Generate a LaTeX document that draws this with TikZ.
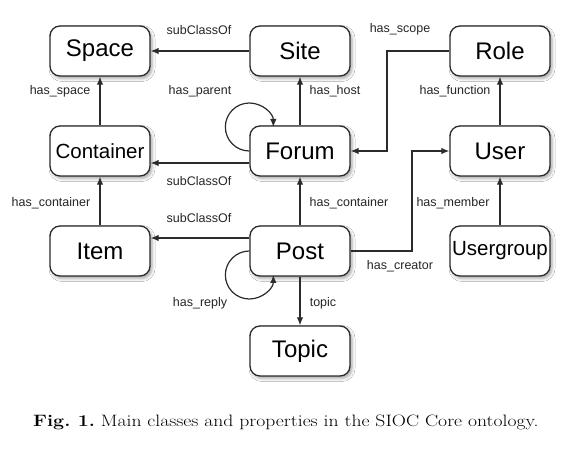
\documentclass[tikz,border=0pt]{standalone}
\usepackage{fontspec}
\newfontfamily\arialfont{Liberation Sans}
\usetikzlibrary{arrows.meta,shadows.blur}
\definecolor{linec}{HTML}{2B2B2B}
\begin{document}
\begin{tikzpicture}[x=1pt,y=1pt,
  cls/.style={draw=linec, line width=1.3pt, rounded corners=10pt, fill=white,
    minimum width=100pt, minimum height=50pt, inner sep=0pt,
    font=\arialfont\fontsize{24}{28}\selectfont,
    blur shadow={shadow xshift=2pt, shadow yshift=-2.5pt, shadow blur radius=3pt, shadow opacity=35}},
  smallcls/.style={cls, font=\arialfont\fontsize{20.5}{24}\selectfont},
  rel/.style={draw=linec, line width=1.2pt, -{Latex[length=8pt,width=6.5pt]}},
  lbl/.style={font=\arialfont\fontsize{12.5}{14}\selectfont, inner sep=0pt, text=black!85}
]
\useasboundingbox (0,0) rectangle (574,448);
\fill[white] (0,0) rectangle (574,448);

\node[cls] (space) at (100,397) {Space};
\node[cls] (site) at (300,397) {Site};
\node[cls] (role) at (500,397) {Role};
\node[smallcls] (container) at (100,297) {Container};
\node[cls] (forum) at (300,297) {Forum};
\node[cls] (user) at (500,297) {User};
\node[cls] (item) at (100,197) {Item};
\node[cls] (post) at (300,197) {Post};
\node[smallcls] (usergroup) at (500,197) {Usergroup};
\node[cls] (topic) at (300,97) {Topic};

\coordinate (scopeA) at (387,397);
\coordinate (scopeB) at (387,297);
\coordinate (creatA) at (412,197);
\coordinate (creatB) at (412,297);

\draw[rel] (site.west) -- (space.east);
\draw[rel] (container.north) -- (space.south);
\draw[rel] (forum.north) -- (site.south);
\draw[rel] (user.north) -- (role.south);
\draw[rel] (role.west) -- (scopeA) -- (scopeB) -- (forum.east);
\draw[rel] ([yshift=-12pt]forum.west) -- ([yshift=-12pt]container.east);
\draw[rel] (item.north) -- (container.south);
\draw[rel] (post.north) -- (forum.south);
\draw[rel] ([yshift=13pt]post.west) -- ([yshift=13pt]item.east);
\draw[rel] (post.east) -- (creatA) -- (creatB) -- (user.west);
\draw[rel] (usergroup.north) -- (user.south);
\draw[rel] (post.south) -- (topic.north);
\draw[rel] (forum.west) arc[start angle=270, end angle=0, radius=24pt];
\draw[rel] (post.west) arc[start angle=90, end angle=360, radius=24pt];

\node[lbl] (l1) at (199,418) {subClassOf};
\node[lbl] (l2) at (60,357) {has\_space};
\node[lbl] (l3) at (200,357) {has\_parent};
\node[lbl] (l4) at (335,357) {has\_host};
\node[lbl] (l5) at (400,419) {has\_scope};
\node[lbl] (l6) at (455,357) {has\_function};
\node[lbl] (l7) at (199,267) {subClassOf};
\node[lbl] (l8) at (51,245) {has\_container};
\node[lbl] (l9) at (349,245) {has\_container};
\node[lbl] (l10) at (453,245) {has\_member};
\node[lbl] (l11) at (199,230) {subClassOf};
\node[lbl] (l12) at (400,182) {has\_creator};
\node[lbl] (l13) at (200,145) {has\_reply};
\node[lbl] (l14) at (323,145) {topic};

\node[anchor=base west, inner sep=0pt, font=\fontsize{16.5}{19}\selectfont] (cap) at (33,22)
  {\scalebox{1.19}[1]{\frenchspacing\textbf{Fig.~1.} Main classes and properties in the SIOC Core ontology.}};
\end{tikzpicture}
\end{document}
